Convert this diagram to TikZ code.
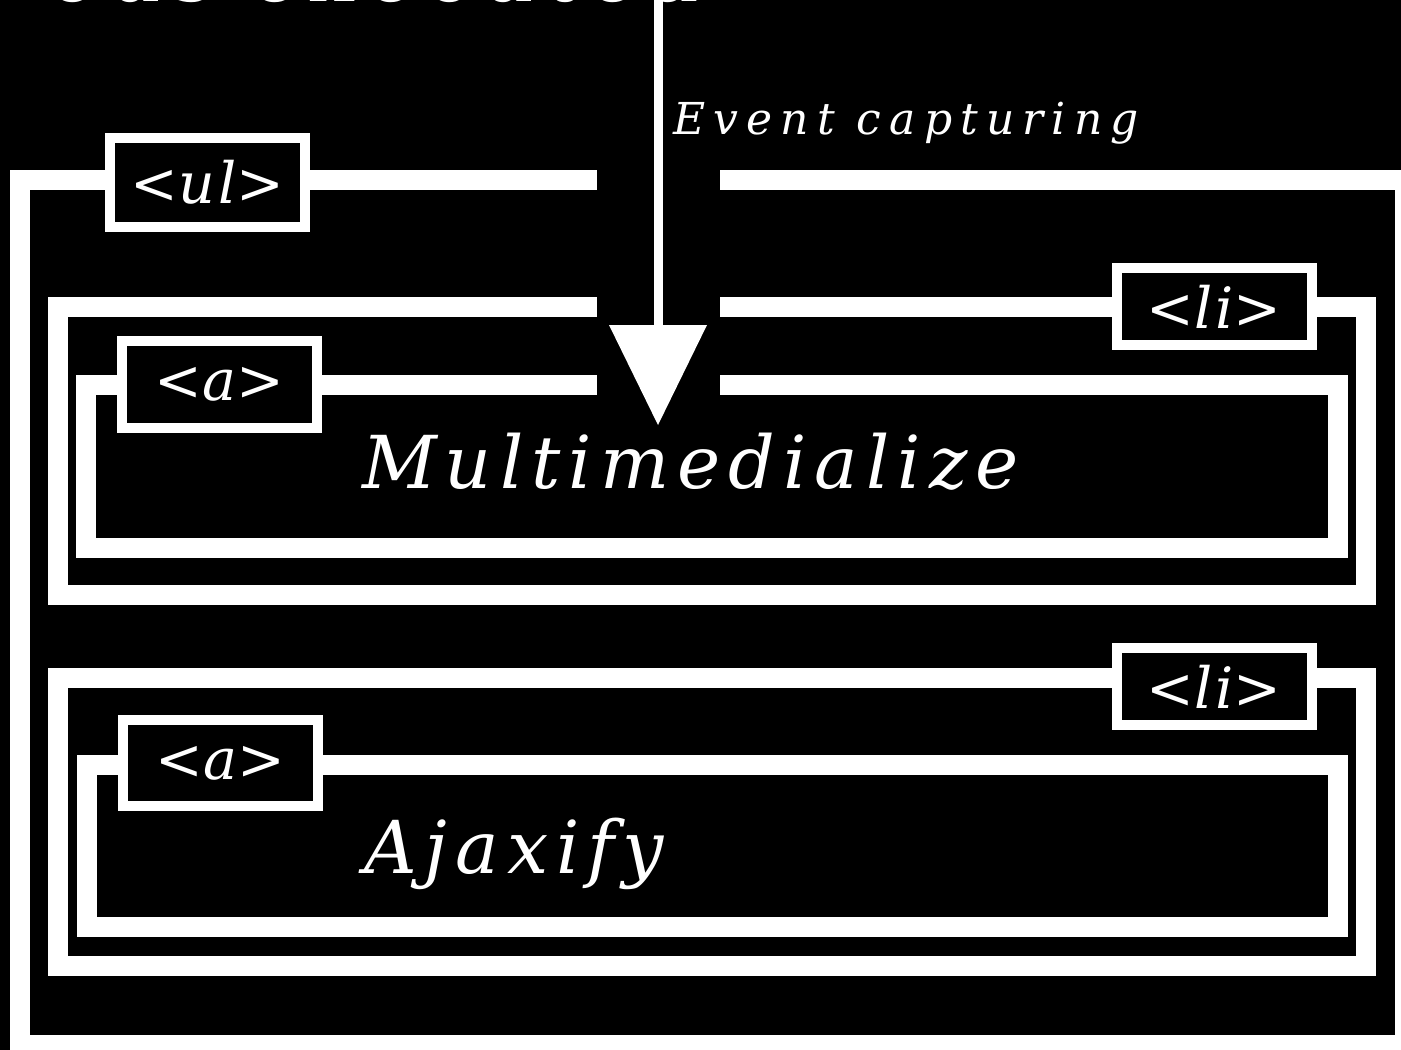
\documentclass[tikz,border=0pt]{standalone}
\usepackage{fontspec}
\setmainfont{DejaVu Serif}
\newfontfamily\spacedfont[LetterSpace=11]{DejaVu Serif}
\newfontfamily\widefont[LetterSpace=18.5]{DejaVu Serif}
\newfontfamily\tagfont[LetterSpace=6]{DejaVu Serif}
\usetikzlibrary{arrows.meta}
\begin{document}
\begin{tikzpicture}[x=1pt,y=-1pt,
  frame/.style={draw=white,line width=20pt,line join=miter,line cap=butt},
  tagbox/.style={draw=white,fill=black,line width=10pt,minimum width=195pt,
    inner sep=0pt,text=white,font=\tagfont\fontsize{57}{60}\selectfont},
  bigtext/.style={text=white,inner sep=0pt,font=\spacedfont\itshape\fontsize{73}{80}\selectfont},
  captext/.style={text=white,inner sep=0pt,font=\widefont\itshape\fontsize{44}{48}\selectfont},
  flow/.style={draw=white,line width=9pt,-{Triangle[width=98pt,length=100pt,line width=0pt]}}
  ]
\fill[black] (0,0) rectangle (1401,1050);
\useasboundingbox (0,0) rectangle (1401,1050);

% cut-off heading at the top
\node[text=white,inner sep=0pt,anchor=base east,font=\spacedfont\fontsize{84}{88}\selectfont] (head) at (700,1) {ous executed};

% <ul> frame (right and bottom run past the picture)
\draw[frame] (720,180) -- (1405,180) -- (1405,1045) -- (20,1045) -- (20,180) -- (597,180);
% first <li> and <a>
\draw[frame] (720,307) -- (1366,307) -- (1366,595) -- (58,595) -- (58,307) -- (597,307);
\draw[frame] (720,385) -- (1338,385) -- (1338,548) -- (86,548) -- (86,385) -- (597,385);
% second <li> and <a>
\draw[frame] (58,678) rectangle (1366,966);
\draw[frame] (87,765) rectangle (1338,927);

% tags
\node[tagbox,minimum height=89pt] (ul) at (207.5,182.5) {<\itshape ul\upshape>};
\node[tagbox,minimum height=77pt] (li1) at (1214,306.5) {<\itshape li\upshape>};
\node[tagbox,minimum height=87pt] (a1) at (219.5,384.5) {<\itshape a\upshape>};
\node[tagbox,minimum height=77pt] (li2) at (1214,686.5) {<\itshape li\upshape>};
\node[tagbox,minimum height=86pt] (a2) at (220.5,763) {<\itshape a\upshape>};

% texts
\node[bigtext,anchor=base west] (m) at (362,488) {Multimedialize};
\node[bigtext,anchor=base west] (aj) at (364,873) {Ajaxify};
\node[captext,anchor=base west] (cap) at (673,134) {Event capturing};

% event capturing arrow
\coordinate (src) at (658,-20);
\coordinate (tip) at (658,425);
\draw[flow] (src) -- (tip);
\end{tikzpicture}
\end{document}
